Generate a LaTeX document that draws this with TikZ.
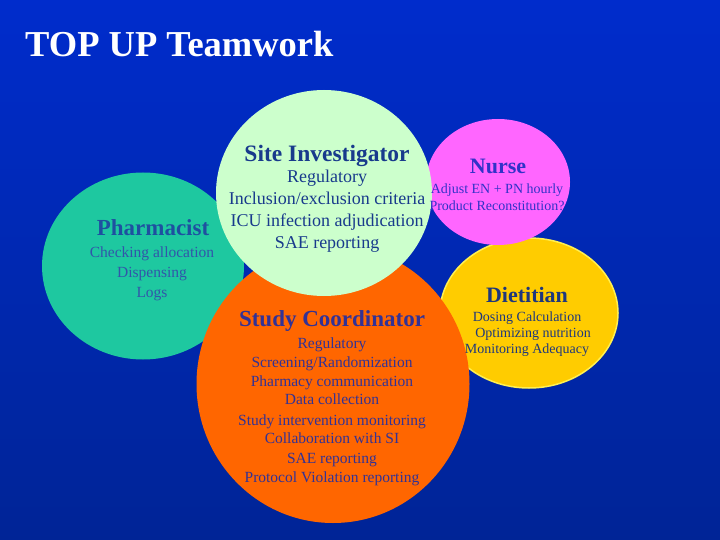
\documentclass[tikz,border=0pt]{standalone}
\usepackage{fontspec}
\setmainfont{Liberation Serif}
\usetikzlibrary{shapes.geometric}
\definecolor{bgtop}{RGB}{0,44,204}
\definecolor{bgbot}{RGB}{0,36,150}
\definecolor{teal}{RGB}{30,200,160}
\definecolor{palegreen}{RGB}{204,255,204}
\definecolor{magentaN}{RGB}{255,102,255}
\definecolor{yellowD}{RGB}{255,204,0}
\definecolor{yellowE}{RGB}{255,240,80}
\definecolor{orangeS}{RGB}{255,102,0}
\definecolor{txtSI}{RGB}{24,58,140}
\definecolor{txtPh}{RGB}{30,80,160}
\definecolor{txtPhL}{RGB}{50,85,170}
\definecolor{txtN}{RGB}{50,50,200}
\definecolor{txtSC}{RGB}{50,50,150}
\definecolor{txtD}{RGB}{30,55,125}
\tikzset{
  blob/.style={ellipse, inner sep=0pt, draw=none},
  ttl/.style={anchor=base, inner sep=0pt, font=\fontsize{22}{24}\selectfont\bfseries},
  ln/.style={anchor=base, inner sep=0pt}
}
\begin{document}
\begin{tikzpicture}[x=1pt,y=-1pt]
\shade[top color=bgtop, bottom color=bgbot] (0,0) rectangle (720,540);
\useasboundingbox (0,0) rectangle (720,540);
% ellipses (back to front)
\node[blob, fill=yellowD, draw=yellowE, line width=1.5pt, minimum width=178pt, minimum height=150pt] (diet) at (529,313) {};
\node[blob, fill=magentaN, minimum width=144pt, minimum height=126pt] (nurse) at (498,182) {};
\node[blob, fill=teal, minimum width=202pt, minimum height=187pt] (pharm) at (143,266) {};
\node[blob, fill=orangeS, minimum width=273pt, minimum height=278pt] (sc) at (333,384) {};
\node[blob, fill=palegreen, minimum width=216pt, minimum height=206pt] (si) at (324,193) {};
% title
\node[anchor=base west, inner sep=0pt, text=white, font=\fontsize{36.5}{40}\selectfont\bfseries] (title) at (25,57) {TOP UP Teamwork};
% Site Investigator
\node[ttl, text=txtSI, font=\fontsize{23.5}{25}\selectfont\bfseries] (siT) at (327,162) {Site Investigator};
\foreach \y/\t [count=\i] in {183/{Regulatory}, 205/{Inclusion/exclusion criteria}, 226/{ICU infection adjudication}, 248/{SAE reporting}}
  \node[ln, text=txtSI, font=\fontsize{18}{20}\selectfont] (siL\i) at (327,\y) {\t};
% Nurse
\node[ttl, text=txtN] (nT) at (498,174) {Nurse};
\foreach \y/\t [count=\i] in {194/{Adjust EN + PN hourly}, 211/{Product Reconstitution?}}
  \node[ln, text=txtN, font=\fontsize{14}{16}\selectfont] (nL\i) at (497,\y) {\t};
% Pharmacist
\node[ttl, text=txtPh, font=\fontsize{23}{24}\selectfont\bfseries] (pT) at (153,236) {Pharmacist};
\foreach \y/\t [count=\i] in {257/{Checking allocation}, 277/{Dispensing}, 297/{Logs}}
  \node[ln, text=txtPhL, font=\fontsize{15.5}{17}\selectfont] (pL\i) at (152,\y) {\t};
% Study Coordinator
\node[ttl, text=txtSC, font=\fontsize{23}{24}\selectfont\bfseries] (scT) at (332,326) {Study Coordinator};
\foreach \y/\t [count=\i] in {348/{Regulatory}, 367/{Screening/Randomization}, 386/{Pharmacy communication}, 404/{Data collection}, 425/{Study intervention monitoring}, 443/{Collaboration with SI}, 463/{SAE reporting}, 482/{Protocol Violation reporting}}
  \node[ln, text=txtSC, font=\fontsize{15.5}{17}\selectfont] (scL\i) at (332,\y) {\t};
% Dietitian
\node[ttl, text=txtD] (dT) at (527,302) {Dietitian};
\node[ln, text=txtD, font=\fontsize{14}{16}\selectfont] (dL1) at (527,321) {Dosing Calculation};
\node[ln, text=txtD, font=\fontsize{14}{16}\selectfont] (dL2) at (533,337) {Optimizing nutrition};
\node[ln, text=txtD, font=\fontsize{14}{16}\selectfont] (dL3) at (527,353) {Monitoring Adequacy};
\end{tikzpicture}
\end{document}
